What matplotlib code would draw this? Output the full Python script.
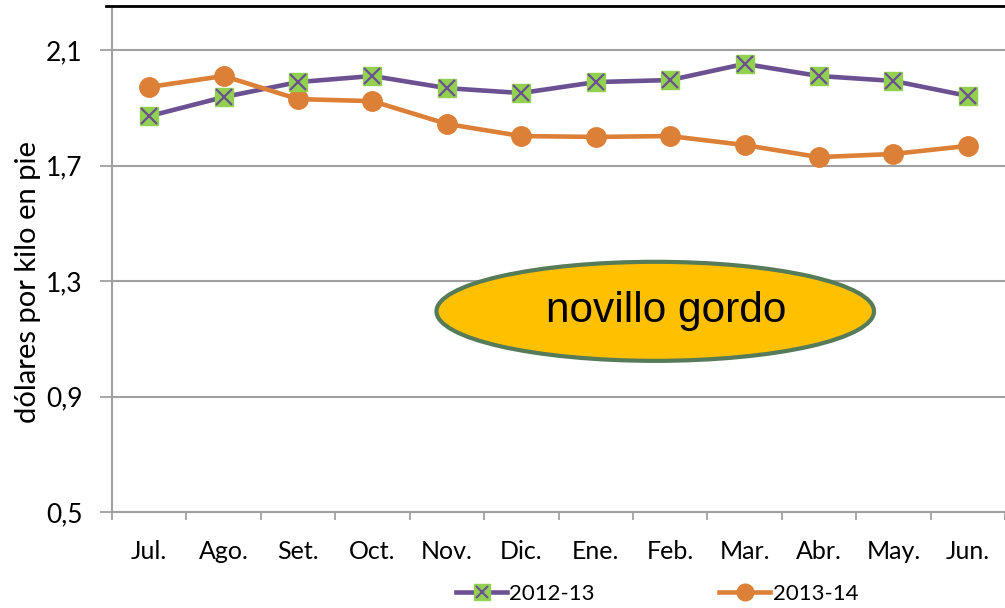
import matplotlib
matplotlib.use("Agg")
import matplotlib.pyplot as plt
from matplotlib.patches import Ellipse
from matplotlib.lines import Line2D

months = ["Jul.", "Ago.", "Set.", "Oct.", "Nov.", "Dic.", "Ene.", "Feb.", "Mar.", "Abr.", "May.", "Jun."]
s2012 = [1.871, 1.937, 1.989, 2.010, 1.968, 1.951, 1.989, 1.996, 2.052, 2.010, 1.993, 1.941]
s2013 = [1.972, 2.010, 1.930, 1.923, 1.844, 1.802, 1.799, 1.802, 1.771, 1.729, 1.740, 1.768]
yticks = [0.5, 0.9, 1.3, 1.7, 2.1]
ytick_labels = ["0,5", "0,9", "1,3", "1,7", "2,1"]
label_2012 = "2012-13"
label_2013 = "2013-14"
ylabel = "dólares por kilo en pie"
note = "novillo gordo"

purple = "#6B5092"
green = "#92D050"
orange = "#DC8038"
grid_c = "#A0A0A0"

fig = plt.figure(figsize=(10.05, 6.08), dpi=100)
ax = fig.add_axes([112/1005, 96/608, 1 - 112/1005, (512-7)/608])
x = list(range(len(months)))

ax.plot(x, s2012, color=purple, lw=3.3, zorder=3)
ax.plot(x, s2012, ls="none", marker="s", ms=13.5, mfc=green, mec=green, zorder=4)
ax.plot(x, s2012, ls="none", marker="x", ms=11, mec=purple, mew=1.6, zorder=5)
ax.plot(x, s2013, color=orange, lw=3.3, marker="o", ms=14, mfc=orange, mec=orange, zorder=3)

ax.set_xlim(-0.5, 11.43)
ax.set_ylim(0.5, 2.249)
ax.set_yticks(yticks)
ax.set_yticklabels(ytick_labels, fontsize=19, family="Lato")
ax.set_xticks(x)
ax.set_xticklabels(months, fontsize=18, family="Lato")
ax.set_xticks([i - 0.5 for i in range(13)], minor=True)
ax.tick_params(axis="x", which="major", length=0, pad=20)
ax.tick_params(axis="x", which="minor", length=6, width=1.3, color=grid_c, direction="out")
ax.tick_params(axis="y", length=9, width=1.3, color=grid_c, direction="out", pad=12)
ax.grid(axis="y", color=grid_c, lw=1.5, zorder=0)
for s in ["top", "right"]:
    ax.spines[s].set_visible(False)
for s in ["left", "bottom"]:
    ax.spines[s].set_color(grid_c)
    ax.spines[s].set_linewidth(1.5)
ax.set_ylabel(ylabel, fontsize=21, family="Lato")
ax.yaxis.set_label_coords(-0.079, 0.455)

# top border line
fig.add_artist(Line2D([106/1005, 1.0], [1 - 6/608, 1 - 6/608], color="black", lw=2))

# ellipse annotation
ell = Ellipse((6.8, 1.195), width=5.88, height=0.343, facecolor="#FFC000",
              edgecolor="#567B58", lw=3, zorder=6)
ax.add_patch(ell)
ax.text(6.95, 1.195, note, ha="center", va="center", fontsize=30.5,
        family="Liberation Sans", zorder=7)

h1 = (Line2D([], [], color=purple, lw=3.3, marker="s", ms=12, mfc=green, mec=green),
      Line2D([], [], ls="none", marker="x", ms=9, mec=purple, mew=1.5))
h2 = Line2D([], [], color=orange, lw=3.3, marker="o", ms=12, mfc=orange, mec=orange)
fig.legend([h1, h2], [label_2012, label_2013], loc="center", bbox_to_anchor=(657/1005, 1 - 594/608),
           ncol=2, frameon=False, prop={"family": "Lato", "size": 16},
           handlelength=2.3, handletextpad=0.1, columnspacing=5.6)

fig.savefig("out.png", dpi=100)
